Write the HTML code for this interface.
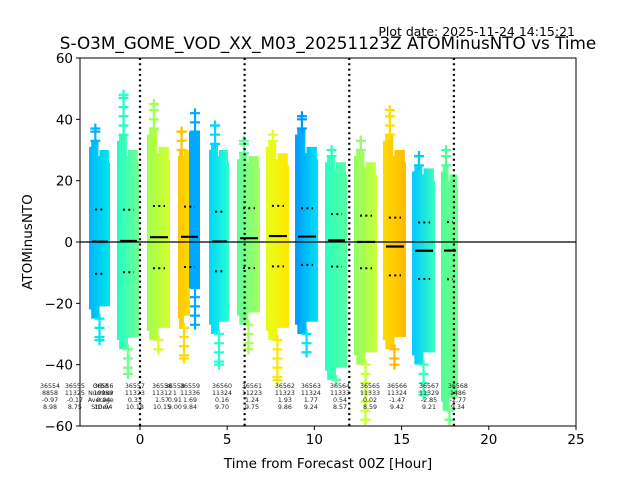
<!DOCTYPE html>
<html><head><meta charset="utf-8"><style>
body{margin:0;background:#fff}
svg{display:block;font-family:"DejaVu Sans","Liberation Sans",sans-serif}
</style></head><body>
<svg id="chart" width="640" height="480" viewBox="0 0 640 480" xmlns="http://www.w3.org/2000/svg">
<defs id="defs"></defs>
<rect width="640" height="480" fill="#fff"/>
<text x="575" y="36" font-size="12.5" text-anchor="end">Plot date: 2025-11-24 14:15:21</text>
<text x="328" y="49" font-size="16.8" text-anchor="middle">S-O3M_GOME_VOD_XX_M03_20251123Z ATOMinusNTO vs Time</text>
<text x="328" y="468" font-size="13.5" text-anchor="middle">Time from Forecast 00Z [Hour]</text>
<text transform="translate(32,242) rotate(-90)" font-size="13.5" text-anchor="middle">ATOMinusNTO</text>
<g id="plot"></g>
</svg>
<script>
// ---- data ----
const bandStart = [-2.92,-1.32,0.40,2.18,3.96,5.56,7.22,8.89,10.61,12.27,13.93,15.60,17.26];
const bandEnd   = [-1.72,-0.06,1.72,3.44,5.10,6.88,8.54,10.21,11.87,13.59,15.25,16.92,18.23];
const bandMean  = [0.1,0.33,1.57,1.69,0.16,1.24,1.93,1.77,0.54,0.02,-1.47,-2.85,-2.8];
const bandStd   = [10.5,10.18,10.15,9.84,9.70,9.75,9.86,9.24,8.57,8.59,9.42,9.21,9.34];
const bandTop   = [33,35,37,30,32,29,33,37,28,30,35,25,25];
const bandTopR  = [30,30,31,30,30,28,29,31,26,26,30,24,22];
const bandBottom= [-25,-35,-32,-28,-30,-27,-32,-30,-45,-40,-35,-40,-55];
const spikeHi   = [37,48,45,36,38,33,35,41,30,33,43,28,30];
const spikeLo   = [-32,-43,-35,-38,-40,-35,-45,-36,-45,-58,-40,-50,-58];
const colorL = ['#00b4ff','#20ffc8','#a0ff50','#ffc400','#00d4ff','#5cff98','#e4ff1c','#0098ff','#28ffc4','#90ff68','#ffdc00','#00c8ff','#50ff98'];
const colorR = ['#00e8e8','#70ff90','#d4ff2c','#ffdc00','#28ffd0','#a4ff5c','#ffe800','#00e4f4','#58ffa0','#c8ff38','#ffb800','#38ffc0','#70ff88'];
const splitBand = 3; const splitColor = '#00a8ff'; const splitTop = 36; const splitSpike = 44; const splitBottom = -15;
const vLines = [0,6,12,18];
const xTicks = [0,5,10,15,20,25];
const yTicks = [-60,-40,-20,0,20,40,60];
const txtHour = [-5.16,-3.73,-2.1,-0.29,1.26,2.0,2.87,4.70,6.42,8.31,9.8,11.47,13.19,14.74,16.57,18.23];
const txtOrbit= ['36554','36555','36556','36557','36558','36558','36559','36560','36561','36562','36563','36564','36565','36566','36567','36568'];
const txtNum  = ['8858','11325','10989','11323','11312','1','11336','11324','11223','11323','11324','11333','11333','11324','11329','1486'];
const txtAvg  = ['-0.97','-0.17','0.04','0.33','1.57','0.91','1.69','0.16','1.24','1.93','1.77','0.54','0.02','-1.47','-2.85','-2.77'];
const txtStd  = ['8.98','8.75','10.94','10.18','10.15','9.00','9.84','9.70','9.75','9.86','9.24','8.57','8.59','9.42','9.21','9.34'];
// ---- axes ----
const L=80,R=576,T=58,B=426,xMin=-3.44,xMax=25,yMin=-60,yMax=60;
const X=v=>L+(v-xMin)/(xMax-xMin)*(R-L);
const Y=v=>B-(v-yMin)/(yMax-yMin)*(B-T);
const NS='http://www.w3.org/2000/svg';
const g=document.getElementById('plot'),defs=document.getElementById('defs');
function mk(t,a,p){const e=document.createElementNS(NS,t);for(const k in a)e.setAttribute(k,a[k]);(p||g).appendChild(e);return e;}
function plus(x,y,c,name){
  const e=mk('path',{d:`M${x-5} ${y}H${x+5}M${x} ${y-5}V${y+5}`,stroke:c,'stroke-width':2.2});
  
  
}
for(let i=0;i<bandStart.length;i++){
  const gr=mk('linearGradient',{id:'g'+i,x1:0,x2:1,y1:0,y2:0},defs);
  mk('stop',{offset:0,'stop-color':colorL[i]},gr);mk('stop',{offset:1,'stop-color':colorR[i]},gr);
  let x0=X(bandStart[i]),x1=X(bandEnd[i]);
  let xe=x1;
  if(i===splitBand){xe=(x0+x1)/2+1;}
  const w=xe-x0,xm=x0+w*0.5,yt=Y(bandTop[i]),ytr=Y(bandTopR[i]),yb=Y(bandBottom[i]);
  const p=mk('path',{d:`M${x0} ${Y(bandBottom[i]+3)}V${Y(bandTop[i]-2)}H${x0+w*0.1}V${yt}H${xm-w*0.05}V${Y(bandTopR[i]-2)}H${xm}V${ytr}H${xe-w*0.05}V${Y(bandTopR[i]-4)}H${xe}V${Y(bandBottom[i]+4)}H${xm}V${yb}H${x0+w*0.1}V${Y(bandBottom[i]+3)}Z`,fill:`url(#g${i})`});
  
  
  const cx=x0+w*0.3;
  for(let v=bandTop[i];v<=spikeHi[i];v+=3)plus(cx,Y(v),colorL[i],'outlier-high');
  plus(cx,Y(spikeHi[i]),colorL[i],'outlier-high');
  for(let v=bandBottom[i];v>=spikeLo[i];v-=3)plus(cx+w*0.2,Y(v),colorR[i],'outlier-low');
  plus(cx+w*0.2,Y(spikeLo[i]),colorR[i],'outlier-low');
  if(i===splitBand){
    const s=mk('rect',{x:xe-1,y:Y(splitTop),width:x1-xe+1,height:Y(splitBottom)-Y(splitTop),fill:splitColor});
    
    
    for(let v=splitTop;v<=splitSpike;v+=3)plus((xe+x1)/2,Y(v),splitColor,'outlier-high');
    for(let v=splitBottom;v>=-28;v-=3)plus((xe+x1)/2,Y(v),splitColor,'outlier-low');
  }
}
// mean and std lines
for(let i=0;i<bandStart.length;i++){
  const x0=X(bandStart[i])+3,x1=X(bandEnd[i])-2;
  const m=mk('line',{x1:x0,x2:x1,y1:Y(bandMean[i]),y2:Y(bandMean[i]),stroke:'#000','stroke-width':2.2});
  
  
  for(const s of [1,-1]){
    const yy=Y(bandMean[i]+s*bandStd[i]);
    const d=mk('line',{x1:x0+3,x2:x1-3,y1:yy,y2:yy,stroke:'#000','stroke-width':2,'stroke-dasharray':'2,3.3'});
    
    
  }
}
// zero line
const z=mk('line',{x1:L,x2:R,y1:Y(0),y2:Y(0),stroke:'#000','stroke-width':1.2});


for(const v of vLines){
  const l=mk('line',{x1:X(v),x2:X(v),y1:T,y2:B,stroke:'#000','stroke-width':2.2,'stroke-dasharray':'2,3.3'});
  
  
}
// annotation text
const rows=[txtOrbit,txtNum,txtAvg,txtStd],ry=[388,395,402,409];
for(let r=0;r<4;r++)for(let i=0;i<txtHour.length;i++){
  const t=mk('text',{x:X(txtHour[i]),y:ry[r],'font-size':6.3,'text-anchor':'middle',fill:'#222'});
  t.textContent=rows[r][i];
  
  
}
const hdr=['Orbit','Number','Average','StDev'];
for(let r=0;r<4;r++){const t=mk('text',{x:X(-2.25),y:ry[r],'font-size':6.3,'text-anchor':'middle',fill:'#222'});t.textContent=hdr[r];
  
  }
// frame & ticks
const f=mk('rect',{x:L,y:T,width:R-L,height:B-T,fill:'none',stroke:'#000','stroke-width':1});


for(const v of xTicks){
  mk('line',{x1:X(v),x2:X(v),y1:B,y2:B+4,stroke:'#000'});
  const t=mk('text',{x:X(v),y:B+18,'font-size':13.5,'text-anchor':'middle'});t.textContent=v;
  
  
}
for(const v of yTicks){
  mk('line',{x1:L-4,x2:L,y1:Y(v),y2:Y(v),stroke:'#000'});
  const t=mk('text',{x:L-7,y:Y(v)+5,'font-size':13.5,'text-anchor':'end'});t.textContent=v<0?'\u2212'+(-v):v;
  
  
}
</script>
</body></html>
